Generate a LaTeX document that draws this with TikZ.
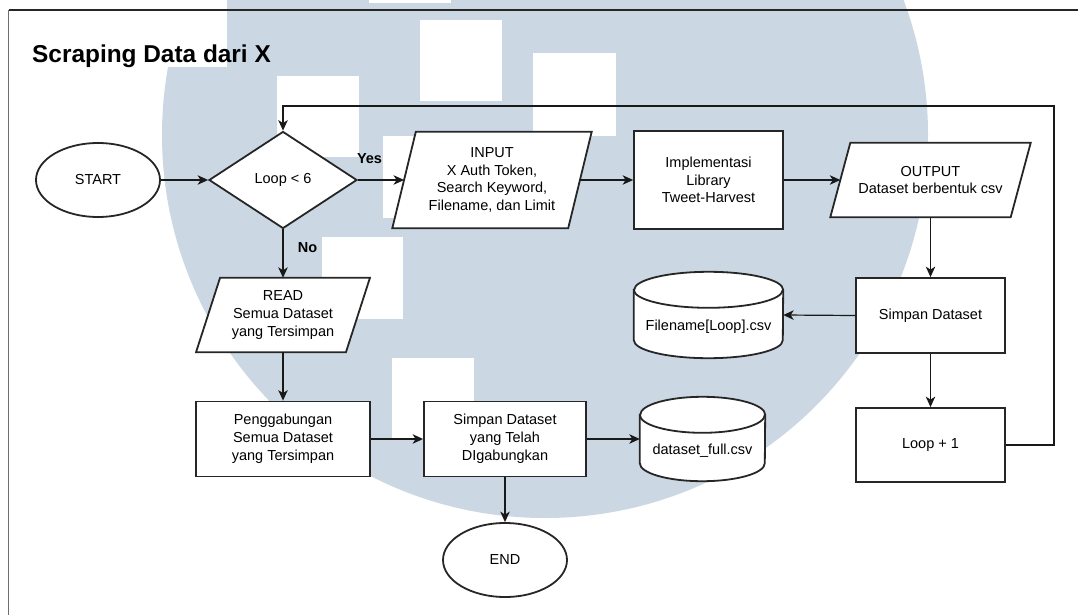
\documentclass[tikz,border=0pt]{standalone}
\usepackage{fontspec}
\setmainfont{Liberation Sans}
\usetikzlibrary{arrows.meta,shapes.geometric}
\pgfdeclarelayer{back}
\pgfdeclarelayer{outline}
\pgfsetlayers{back,outline,main}
\definecolor{wmblue}{RGB}{203,216,227}
\definecolor{framegray}{RGB}{110,110,110}

% parallelogram drawn around an invisible rectangular node: #1 node, #2 half slant
\newcommand\ioshape[2]{%
  \draw[shapeline] ([xshift=#2]#1.north west) -- ([xshift=#2]#1.north east)
    -- ([xshift=-#2]#1.south east) -- ([xshift=-#2]#1.south west) -- cycle;}
% cylinder drawn around an invisible rectangular node: #1 node, #2 x radius, #3 y radius
\newcommand\cylshape[3]{%
  \draw[shapeline] ([yshift=-#3]#1.north west) -- ([yshift=#3]#1.south west)
    arc[start angle=180, end angle=360, x radius=#2, y radius=#3]
    -- ([yshift=-#3]#1.north east)
    arc[start angle=0, end angle=180, x radius=#2, y radius=#3] -- cycle;
  \draw[shapeline, fill=none] ([yshift=-#3]#1.north west)
    arc[start angle=180, end angle=360, x radius=#2, y radius=#3];}

\tikzset{
  shapeline/.style={draw=black!85, line width=1.8pt, fill=white},
  txt/.style={font=\fontsize{14.5}{17.8}\selectfont, align=center, inner sep=0pt},
  term/.style={ellipse, shapeline, txt, minimum width=124pt, minimum height=74pt},
  decision/.style={diamond, shapeline, txt, aspect=1.5, minimum width=148pt, minimum height=97pt},
  proc/.style={rectangle, shapeline, txt},
  iobox/.style={rectangle, txt},
  storebox/.style={rectangle, txt},
  flow/.style={draw=black!90, line width=1.2pt, -{Stealth[length=10.5pt,width=9.5pt,inset=3pt]}},
  lbl/.style={font=\fontsize{14.5}{17.8}\selectfont\bfseries, inner sep=0pt},
}

\begin{document}
\begin{tikzpicture}[x=1pt, y=-1pt]
\useasboundingbox (0,0) rectangle (1078,615);

% background watermark and page frame
\begin{pgfonlayer}{back}
  \fill[white] (0,0) rectangle (1078,615);
  \begin{scope}
    \clip (0,0) rectangle (1078,615);
    \fill[wmblue] (545,135) circle [radius=383pt];
    \fill[white] (145,-20) rectangle (227,67);
    \fill[white] (369,-80) rectangle (451,3);
    \fill[white] (420,20) rectangle (502,101);
    \fill[white] (533,53) rectangle (616,136);
    \fill[white] (277,76) rectangle (359,157);
    \fill[white] (383,136) rectangle (465,218);
    \fill[white] (322,237) rectangle (403,319);
    \fill[white] (392,358) rectangle (474,440);
  \end{scope}
  \draw[framegray, line width=1.8pt] (8.5,615) -- (8.5,10);
  \draw[black!85, line width=1.1pt] (8.5,10) -- (1078,10);
\end{pgfonlayer}

% title
\node[anchor=base west, font=\fontsize{24.4}{29}\selectfont\bfseries, inner sep=0pt]
  (title) at (32,62.7) {Scraping Data dari X};

% flowchart nodes
\node[term] (start) at (98,180) {START};
\node[decision] (dec) at (283,180) {Loop < 6};
\node[iobox, minimum width=175.5pt, minimum height=96pt] (inp) at (492,180)
  {INPUT\\X Auth Token,\\Search Keyword,\\Filename, dan Limit};
\node[proc, minimum width=149pt, minimum height=98pt] (impl) at (708.5,180)
  {Implementasi\\Library\\Tweet-Harvest};
\node[iobox, minimum width=180pt, minimum height=74pt] (outp) at (930.5,180)
  {OUTPUT\\Dataset berbentuk csv};
\node[proc, minimum width=149pt, minimum height=75pt] (save1) at (930.5,315.5)
  {Simpan Dataset};
\node[storebox, minimum width=149pt, minimum height=86pt] (file1) at (708.5,315)
  {\raisebox{-12pt}[\height][\depth]{Filename[Loop].csv}};
\node[proc, minimum width=149pt, minimum height=74pt] (inc) at (930.5,445)
  {Loop + 1};
\node[iobox, minimum width=149.5pt, minimum height=74pt] (read) at (283,315)
  {READ\\Semua Dataset\\yang Tersimpan};
\node[proc, minimum width=174pt, minimum height=75pt] (merge) at (283,439)
  {Penggabungan\\Semua Dataset\\yang Tersimpan};
\node[proc, minimum width=162pt, minimum height=75pt] (save2) at (505,439)
  {Simpan Dataset\\yang Telah\\DIgabungkan};
\node[storebox, minimum width=125pt, minimum height=84pt] (file2) at (702.5,439)
  {\raisebox{-12pt}[\height][\depth]{dataset\_full.csv}};
\node[term] (end) at (505,560) {END};

% outlines of the parallelograms and cylinders
\begin{pgfonlayer}{outline}
  \ioshape{inp}{11.75pt}
  \ioshape{outp}{10pt}
  \ioshape{read}{12pt}
  \cylshape{file1}{74.5pt}{18pt}
  \cylshape{file2}{62.5pt}{18pt}
\end{pgfonlayer}

% branch labels
\node[lbl] (yes) at (369.5,158.5) {Yes};
\node[lbl] (no) at (307.5,247.5) {No};

% connectors
\coordinate (loopback) at (1054,106);
\draw[flow] (start.east) -- (dec.west);
\draw[flow] (dec.east) -- (inp.west);
\draw[flow] (inp.east) -- (impl.west);
\draw[flow] (impl.east) -- (outp.west);
\draw[flow] (outp.south) -- (save1.north);
\draw[flow] (save1.west) -- (file1.east);
\draw[flow] (save1.south) -- (inc.north);
\draw[flow] (inc.east) -| (loopback) -| (dec.north);
\draw[flow] (dec.south) -- (read.north);
\draw[flow] (read.south) -- (merge.north);
\draw[flow] (merge.east) -- (save2.west);
\draw[flow] (save2.east) -- (file2.west);
\draw[flow] (save2.south) -- (end.north);
\end{tikzpicture}
\end{document}
